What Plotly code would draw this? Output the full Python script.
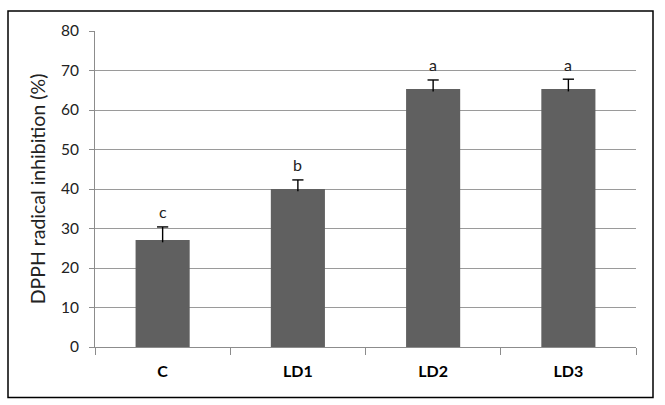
import plotly.graph_objects as go

categories = ["C", "LD1", "LD2", "LD3"]
values = [27.1, 40.0, 65.3, 65.3]
errors = [3.3, 2.3, 2.3, 2.5]
letters = ["c", "b", "a", "a"]
y_ticks = [0, 10, 20, 30, 40, 50, 60, 70, 80]

W, H = 665, 405
L, R, T, B = 95, 29, 31, 58
pw, ph = W - L - R, H - T - B
FONT = "Lato, Open Sans, sans-serif"

fig = go.Figure()
fig.add_trace(go.Bar(
    x=categories, y=values,
    marker=dict(color="#606060", line=dict(width=0)),
    width=0.4,
))

# error stems (upper only) drawn from the data
sx, sy = [], []
for c, v, e in zip(categories, values, errors):
    sx += [c, c, None]
    sy += [v - 0.6, v + e, None]
fig.add_trace(go.Scatter(x=sx, y=sy, mode="lines", line=dict(color="#000000", width=1.4),
                         hoverinfo="skip"))
fig.add_trace(go.Scatter(x=categories, y=[v + e for v, e in zip(values, errors)], mode="markers",
                         marker=dict(symbol="line-ew-open", size=8, color="#000000",
                                     line=dict(color="#000000", width=1.4)),
                         hoverinfo="skip"))

for c, v, e, t in zip(categories, values, errors, letters):
    fig.add_annotation(x=c, y=v + e, text=t, showarrow=False, yanchor="middle",
                       yshift=15, font=dict(family=FONT, size=16, color="#222222"))

# outer frame
fig.add_shape(type="rect", xref="paper", yref="paper",
              x0=(8 - L) / pw, x1=(653 - L) / pw,
              y0=((H - B) - 397.5) / ph, y1=((H - B) - 11) / ph,
              line=dict(color="#000000", width=1.5), fillcolor="rgba(0,0,0,0)")

fig.update_layout(
    width=W, height=H,
    margin=dict(l=L, r=R, t=T, b=B),
    paper_bgcolor="white", plot_bgcolor="white",
    showlegend=False,
    font=dict(family=FONT, color="#222222"),
)
fig.update_xaxes(
    type="category", tickson="boundaries", ticks="outside", ticklen=7,
    tickcolor="#8c8c8c", showline=True, linecolor="#8c8c8c", linewidth=1,
    showgrid=False, automargin=False, ticklabelstandoff=10,
    tickfont=dict(size=16, family=FONT, color="#000000", weight="bold"),
    range=[-0.5, 3.5],
)
fig.update_yaxes(
    range=[0, 80], tickvals=y_ticks, ticks="outside", ticklen=5, tickcolor="#8c8c8c",
    showline=True, linecolor="#8c8c8c", linewidth=1, automargin=False,
    showgrid=True, gridcolor="#9a9a9a", gridwidth=1, zeroline=False,
    ticklabelstandoff=7,
    tickfont=dict(size=15.5, color="#222222"),
    title=dict(text="DPPH radical inhibition (%)", font=dict(size=19.5, color="#222222"), standoff=10),
)

fig.write_html("out.html", config={"displayModeBar": False},
               post_script="document.body.style.margin='0';document.body.style.overflow='hidden';")
